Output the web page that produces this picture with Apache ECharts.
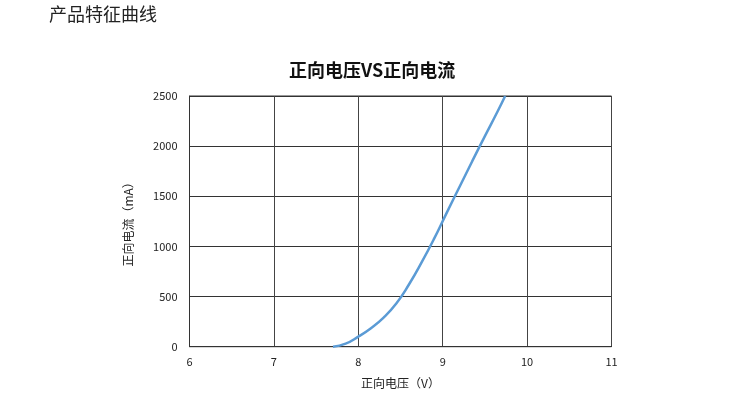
<!DOCTYPE html>
<html>
<head>
<meta charset="utf-8">
<script src="https://cdn.jsdelivr.net/npm/echarts@6/dist/echarts.min.js"></script>
<style>
  html, body { margin: 0; padding: 0; background: #fff; }
  #chart { width: 753px; height: 404px; }
</style>
</head>
<body>
<div id="chart"></div>
<script>
// Forward voltage (V) vs forward current (mA)
const voltage = [7.70, 7.85, 8.00, 8.15, 8.30, 8.45, 8.60, 8.75, 8.90, 9.05, 9.20, 9.35, 9.50, 9.65, 9.74];
const current = [0, 30, 100, 185, 290, 430, 620, 840, 1080, 1340, 1595, 1850, 2100, 2345, 2500];
const xTicks = [6, 7, 8, 9, 10, 11];
const yTicks = [0, 500, 1000, 1500, 2000, 2500];

const points = voltage.map((v, i) => [v, current[i]]);
const chart = echarts.init(document.getElementById('chart'));
const fontCJK = '"Noto Sans CJK SC", "Open Sans", sans-serif';

chart.setOption({
  animation: false,
  textStyle: { fontFamily: fontCJK },
  graphic: [{
    type: 'text', left: 49, top: 5,
    style: { text: '产品特征曲线', font: '18px ' + fontCJK, fill: '#222' }
  }],
  title: {
    text: '正向电压VS正向电流',
    left: 284, top: 56,
    textStyle: { fontSize: 18, fontWeight: 'bold', color: '#111', fontFamily: fontCJK }
  },
  grid: { left: 189.5, right: 141.5, top: 96, bottom: 57.3, show: true, borderColor: '#333', borderWidth: 1 },
  xAxis: {
    type: 'value', min: xTicks[0], max: xTicks[xTicks.length - 1], interval: 1,
    name: '正向电压（V）', nameLocation: 'middle', nameGap: 31,
    nameTextStyle: { fontSize: 12, color: '#222' },
    axisLine: { show: true, lineStyle: { color: '#333' } },
    axisTick: { show: false },
    axisLabel: { color: '#222', fontSize: 11, margin: 10 },
    splitLine: { show: true, lineStyle: { color: '#444', width: 1 } }
  },
  yAxis: {
    type: 'value', min: yTicks[0], max: yTicks[yTicks.length - 1], interval: 500,
    name: '正向电流（mA）', nameLocation: 'middle', nameGap: 55,
    nameTextStyle: { fontSize: 12, color: '#222' },
    axisLine: { show: true, lineStyle: { color: '#333' } },
    axisTick: { show: false },
    axisLabel: { color: '#222', fontSize: 11, margin: 12, formatter: v => String(v) },
    splitLine: { show: true, lineStyle: { color: '#333', width: 1 } }
  },
  series: [{
    type: 'line', data: points, smooth: 0.5, showSymbol: false,
    lineStyle: { color: '#5b9bd5', width: 2.5 }
  }]
});
</script>
</body>
</html>
